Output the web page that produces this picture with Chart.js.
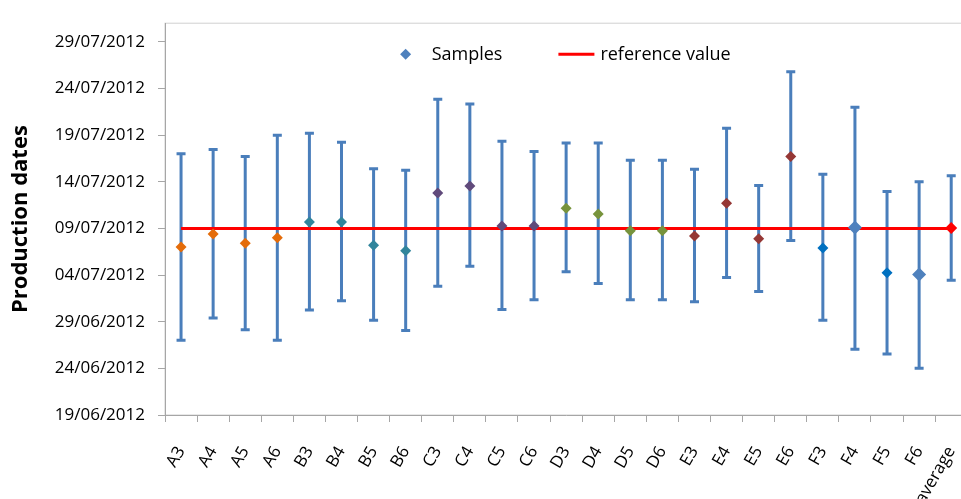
<!DOCTYPE html>
<html>
<head>
<meta charset="utf-8">
<script src="https://cdn.jsdelivr.net/npm/chart.js@4.4.1/dist/chart.umd.min.js"></script>
<style>
  html, body { margin: 0; padding: 0; background: #fff; overflow: hidden; }
  #chart { display: block; }
</style>
</head>
<body>
<canvas id="chart" width="990" height="499" style="width:990px;height:499px"></canvas>
<script>
// samples, in days counted from 19/06/2012
const categories = ['A3', 'A4', 'A5', 'A6', 'B3', 'B4', 'B5', 'B6', 'C3', 'C4', 'C5', 'C6',
  'D3', 'D4', 'D5', 'D6', 'E3', 'E4', 'E5', 'E6', 'F3', 'F4', 'F5', 'F6', 'average'];
const sampleDays = [18.0, 19.4, 18.4, 19.0, 20.7, 20.7, 18.2, 17.6, 23.8, 24.55, 20.25, 20.25,
  22.15, 21.55, 19.75, 19.75, 19.2, 22.7, 18.9, 27.7, 17.9, 20.1, 15.25, 15.05, 20.05];
const highDays = [28.0, 28.45, 27.7, 30.0, 30.2, 29.25, 26.4, 26.25, 33.85, 33.35, 29.35, 28.25,
  29.15, 29.15, 27.3, 27.3, 26.35, 30.75, 24.6, 36.8, 25.8, 33.0, 23.95, 25.0, 25.65];
const lowDays = [8.0, 10.4, 9.15, 8.0, 11.25, 12.25, 10.15, 9.05, 13.8, 15.95, 11.3, 12.35,
  15.35, 14.1, 12.35, 12.35, 12.15, 14.75, 13.25, 18.7, 10.15, 7.05, 6.55, 5.0, 14.45];
const pointColors = ['#E46C0A', '#E46C0A', '#E46C0A', '#E46C0A', '#31859C', '#31859C', '#31859C', '#31859C',
  '#604A7B', '#604A7B', '#604A7B', '#604A7B', '#77933C', '#77933C', '#77933C', '#77933C',
  '#953735', '#953735', '#953735', '#953735', '#0070C0', '#4F81BD', '#0070C0', '#4F81BD', '#FF0000'];
const pointSizes = [5.5, 5.5, 5.5, 5.5, 5.5, 5.5, 5.5, 5.5, 5.5, 5.5, 5.5, 5.5,
  5.5, 5.5, 5.5, 5.5, 5.5, 5.5, 5.5, 5.5, 5.5, 7, 5.5, 7, 6];
const referenceDay = 20; // 09/07/2012
const axisMin = 0, axisMax = 42, axisStep = 5, lastTick = 40;

function dayToDate(d) {
  const dt = new Date(2012, 5, 19 + Math.round(d));
  const p = n => (n < 10 ? '0' : '') + n;
  return p(dt.getDate()) + '/' + p(dt.getMonth() + 1) + '/' + dt.getFullYear();
}

// barres d'erreur dessinées avant les séries
const errorBars = {
  id: 'errorBars',
  beforeDatasetsDraw(chart) {
    const ctx = chart.ctx, x = chart.scales.x, y = chart.scales.y;
    ctx.save();
    ctx.strokeStyle = '#4A7EBB';
    ctx.lineWidth = 3;
    categories.forEach((c, i) => {
      const px = x.getPixelForValue(i);
      const top = y.getPixelForValue(highDays[i]);
      const bot = y.getPixelForValue(lowDays[i]);
      ctx.beginPath();
      ctx.moveTo(px, top); ctx.lineTo(px, bot);
      ctx.moveTo(px - 4.5, top); ctx.lineTo(px + 4.5, top);
      ctx.moveTo(px - 4.5, bot); ctx.lineTo(px + 4.5, bot);
      ctx.stroke();
    });
    ctx.restore();
  }
};

// cadre de la zone de tracé
const plotFrame = {
  id: 'plotFrame',
  beforeDraw(chart) {
    const a = chart.chartArea, ctx = chart.ctx;
    ctx.save();
    ctx.strokeStyle = '#D0D0D0';
    ctx.lineWidth = 1;
    ctx.strokeRect(a.left, a.top, a.right - a.left, a.bottom - a.top);
    ctx.restore();
  }
};

// légende à l'intérieur de la zone de tracé
const innerLegend = {
  id: 'innerLegend',
  afterDraw(chart) {
    const a = chart.chartArea, ctx = chart.ctx;
    const ds = chart.data.datasets;
    ctx.save();
    ctx.font = '18px "Open Sans"';
    ctx.textBaseline = 'middle';
    ctx.fillStyle = '#000';
    const w1 = ctx.measureText(ds[0].label).width;
    const w2 = ctx.measureText(ds[1].label).width;
    const total = 36 + 8 + w1 + 56 + 36 + 6 + w2;
    let x = (a.left + a.right) / 2 - total / 2 - 7;
    const y = a.top + 31;
    // losange
    ctx.fillStyle = '#4F81BD';
    ctx.beginPath();
    ctx.moveTo(x + 18, y - 5.5); ctx.lineTo(x + 23.5, y);
    ctx.lineTo(x + 18, y + 5.5); ctx.lineTo(x + 12.5, y);
    ctx.closePath(); ctx.fill();
    x += 44;
    ctx.fillStyle = '#000';
    ctx.fillText(ds[0].label, x, y + 1);
    x += w1 + 56;
    ctx.strokeStyle = ds[1].borderColor;
    ctx.lineWidth = 3;
    ctx.beginPath(); ctx.moveTo(x, y); ctx.lineTo(x + 36, y); ctx.stroke();
    x += 42;
    ctx.fillText(ds[1].label, x, y + 1);
    ctx.restore();
  }
};

new Chart(document.getElementById('chart'), {
  type: 'line',
  data: {
    labels: categories,
    datasets: [{
      label: 'Samples',
      data: sampleDays,
      showLine: false,
      pointStyle: 'rectRot',
      pointRadius: pointSizes,
      pointHoverRadius: pointSizes,
      pointBackgroundColor: pointColors,
      pointBorderColor: pointColors,
      pointBorderWidth: 0
    }, {
      label: 'reference value',
      data: categories.map(() => referenceDay),
      borderColor: '#FF0000',
      backgroundColor: '#FF0000',
      borderWidth: 3,
      pointRadius: 0
    }]
  },
  options: {
    responsive: false,
    animation: false,
    layout: { padding: { left: 0, top: 15, right: 0, bottom: 0 } },
    plugins: {
      tooltip: { enabled: false },
      legend: { display: false }
    },
    scales: {
      x: {
        offset: true,
        afterFit(scale) { scale.height = 84; },
        grid: { offset: true, drawOnChartArea: false, tickLength: 7, color: '#A6A6A6' },
        border: { color: '#A6A6A6' },
        ticks: {
          autoSkip: false,
          minRotation: 60,
          maxRotation: 60,
          padding: 21,
          color: '#000',
          font: { family: 'Open Sans', size: 17 }
        }
      },
      y: {
        min: axisMin,
        max: axisMax,
        afterFit(scale) { scale.width = 165; },
        afterBuildTicks(scale) {
          const t = [];
          for (let v = axisMin; v <= lastTick; v += axisStep) t.push({ value: v });
          scale.ticks = t;
        },
        grid: { drawOnChartArea: false, tickLength: 7, color: '#A6A6A6' },
        border: { color: '#A6A6A6' },
        ticks: {
          stepSize: axisStep,
          padding: 13,
          color: '#000',
          font: { family: 'Open Sans', size: 17 },
          callback: v => dayToDate(v)
        },
        title: {
          display: true,
          text: 'Production dates',
          color: '#000',
          font: { family: 'Open Sans', size: 22, weight: 'bold' },
          padding: { top: 8, bottom: 0 }
        }
      }
    }
  },
  plugins: [plotFrame, errorBars, innerLegend]
});
</script>
</body>
</html>
